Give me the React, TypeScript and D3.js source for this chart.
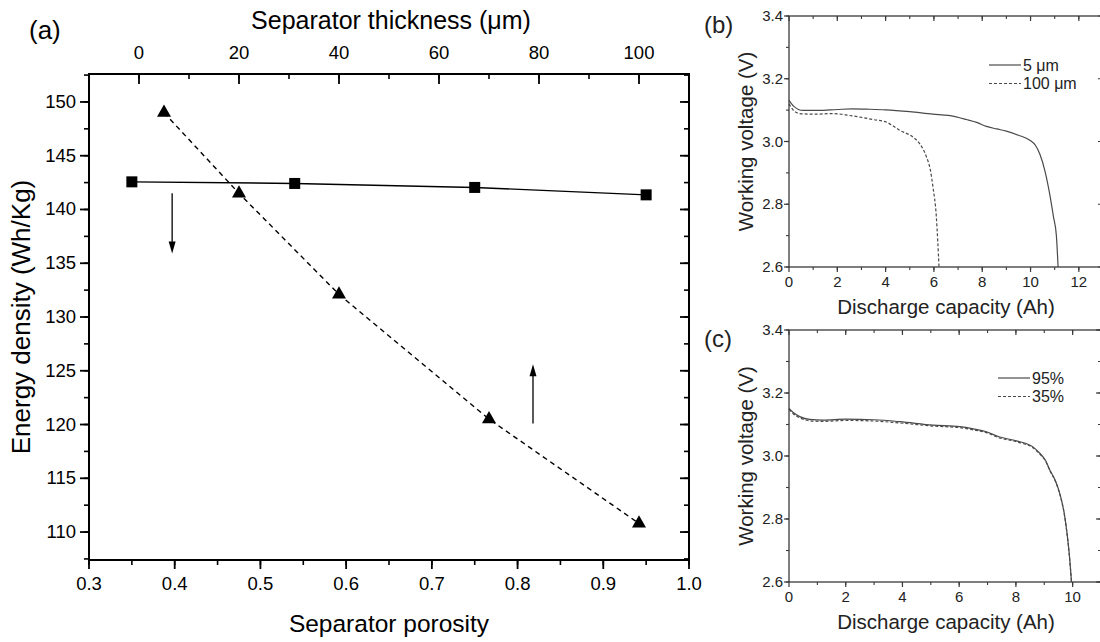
import React from "react";
import * as d3 from "d3";

// ---------- Panel (a) data ----------
const porosity = [0.35, 0.54, 0.75, 0.95];
const energyVsPorosity = [142.57, 142.42, 142.05, 141.36];
const thickness = [5, 20, 40, 70, 100];
const energyVsThickness = [149.0, 141.5, 132.1, 120.5, 110.8];
const porosityTicks = [0.3, 0.4, 0.5, 0.6, 0.7, 0.8, 0.9, 1.0];
const thicknessTicks = [0, 20, 40, 60, 80, 100];
const energyTicks = [110, 115, 120, 125, 130, 135, 140, 145, 150];
// annotation arrows [porosity x, from energy, to energy]
const arrowDown = [0.397, 141.5, 135.9];
const arrowUp = [0.818, 120.1, 125.6];

// ---------- Panel (b) data ----------
const capB5 = [0, 0.2, 0.58, 1.2, 2.0, 2.6, 3.2, 4.0, 5.0, 5.96, 6.6, 7.34, 7.8, 8.17, 8.6, 9.0, 9.5, 9.97, 10.2, 10.38, 10.6, 10.79, 10.95, 11.07, 11.14];
const voltB5 = [3.131, 3.112, 3.099, 3.099, 3.102, 3.104, 3.103, 3.101, 3.095, 3.087, 3.083, 3.070, 3.060, 3.048, 3.040, 3.033, 3.020, 3.004, 2.988, 2.961, 2.905, 2.834, 2.76, 2.70, 2.6];
const capB100 = [0, 0.2, 0.44, 1.0, 1.82, 2.5, 3.0, 3.48, 4.03, 4.3, 4.58, 5.13, 5.41, 5.69, 5.85, 5.96, 6.1, 6.16, 6.21];
const voltB100 = [3.12, 3.098, 3.089, 3.087, 3.089, 3.083, 3.077, 3.070, 3.062, 3.050, 3.036, 3.014, 2.993, 2.951, 2.91, 2.855, 2.76, 2.68, 2.6];
const capTicksB = [0, 2, 4, 6, 8, 10, 12];
const voltTicks = [2.6, 2.8, 3.0, 3.2, 3.4];

// ---------- Panel (c) data ----------
const capC95 = [0, 0.15, 0.38, 0.73, 1.2, 2.0, 3.0, 3.9, 5.08, 6.02, 6.5, 6.96, 7.4, 8.02, 8.6, 8.85, 9.05, 9.2, 9.4, 9.55, 9.7, 9.79, 9.88, 9.96];
const voltC95 = [3.151, 3.138, 3.125, 3.116, 3.114, 3.117, 3.115, 3.109, 3.098, 3.093, 3.086, 3.077, 3.061, 3.048, 3.029, 3.008, 2.985, 2.955, 2.92, 2.88, 2.82, 2.764, 2.69, 2.6];
const capC35 = [0, 0.15, 0.38, 0.73, 1.2, 2.0, 3.0, 3.9, 5.08, 6.02, 6.5, 6.96, 7.4, 8.02, 8.6, 8.85, 9.05, 9.2, 9.4, 9.55, 9.7, 9.79, 9.88, 9.96];
const voltC35 = [3.148, 3.134, 3.121, 3.112, 3.110, 3.113, 3.111, 3.105, 3.095, 3.090, 3.083, 3.074, 3.058, 3.045, 3.026, 3.005, 2.983, 2.953, 2.918, 2.878, 2.818, 2.762, 2.688, 2.6];
const capTicksC = [0, 2, 4, 6, 8, 10];

const FONT = "'Liberation Sans', Arial, sans-serif";

function range(a: number, b: number, step: number) {
  const out: number[] = [];
  for (let v = a; v <= b + 1e-9; v += step) out.push(+v.toFixed(4));
  return out;
}

function SmallPanel(props: {
  label: string;
  x: d3.ScaleLinear<number, number>;
  y: d3.ScaleLinear<number, number>;
  xTicks: number[];
  xMinor: number[];
  series: { xs: number[]; ys: number[]; dash?: string }[];
  legend: { text: string; dash?: string }[];
  legendX: number;
  legendY: number;
}) {
  const { x, y } = props;
  const [x0, x1] = x.range();
  const [y0, y1] = y.range(); // y0 bottom, y1 top
  const col = "#3a3a3a";
  const yMinor = range(2.6, 3.4, 0.1);
  const line = d3
    .line<[number, number]>()
    .x((d) => x(d[0]))
    .y((d) => y(d[1]))
    .curve(d3.curveMonotoneX);
  return (
    <g fontFamily={FONT} fill="#222">
      {props.series.map((s, i) => (
        <path
          key={i}
          d={line(s.xs.map((v, j) => [v, s.ys[j]] as [number, number])) || ""}
          fill="none"
          stroke="#4a4a4a"
          strokeWidth={1.2}
          strokeDasharray={s.dash}
        />
      ))}
      <rect x={x0} y={y1} width={x1 - x0} height={y0 - y1} fill="none" stroke={col} strokeWidth={1.3} />
      {props.xMinor.map((v) => (
        <g key={"xm" + v}>
          <line x1={x(v)} x2={x(v)} y1={y0} y2={y0 + 3} stroke={col} strokeWidth={1.1} />
          <line x1={x(v)} x2={x(v)} y1={y1} y2={y1 + 3} stroke={col} strokeWidth={1.1} />
        </g>
      ))}
      {yMinor.map((v) => (
        <g key={"ym" + v}>
          <line x1={x0} x2={x0 - 3} y1={y(v)} y2={y(v)} stroke={col} strokeWidth={1.1} />
          <line x1={x1} x2={x1 - 3} y1={y(v)} y2={y(v)} stroke={col} strokeWidth={1.1} />
        </g>
      ))}
      {props.xTicks.map((v) => (
        <g key={"x" + v}>
          <line x1={x(v)} x2={x(v)} y1={y0} y2={y0 + 5} stroke={col} strokeWidth={1.2} />
          <line x1={x(v)} x2={x(v)} y1={y1} y2={y1 + 5} stroke={col} strokeWidth={1.2} />
          <text x={x(v)} y={y0 + 20} fontSize={15} textAnchor="middle">
            {v}
          </text>
        </g>
      ))}
      {voltTicks.map((v) => (
        <g key={"y" + v}>
          <line x1={x0} x2={x0 - 5} y1={y(v)} y2={y(v)} stroke={col} strokeWidth={1.2} />
          <line x1={x1} x2={x1 - 5} y1={y(v)} y2={y(v)} stroke={col} strokeWidth={1.2} />
          <text x={x0 - 6} y={y(v) + 5} fontSize={15} textAnchor="end">
            {v.toFixed(1)}
          </text>
        </g>
      ))}
      <text x={946} y={y0 + 47} fontSize={20.5} textAnchor="middle">
        Discharge capacity (Ah)
      </text>
      <text
        transform={`translate(${753},${(y0 + y1) / 2}) rotate(-90)`}
        fontSize={20.5}
        textAnchor="middle"
      >
        Working voltage (V)
      </text>
      <text x={704} y={y1 + 17} fontSize={24}>
        {props.label}
      </text>
      {props.legend.map((l, i) => (
        <g key={"lg" + i}>
          <line
            x1={props.legendX}
            x2={props.legendX + 32}
            y1={props.legendY + i * 18.5}
            y2={props.legendY + i * 18.5}
            stroke="#4a4a4a"
            strokeWidth={1.2}
            strokeDasharray={l.dash}
          />
          <text x={props.legendX + 34} y={props.legendY + i * 18.5 + 5.5} fontSize={16}>
            {l.text}
          </text>
        </g>
      ))}
    </g>
  );
}

export default function App() {
  const xP = d3.scaleLinear().domain([0.3, 1.0]).range([89, 689]);
  const xT = d3.scaleLinear().domain([-10, 110]).range([89, 689]);
  const yE = d3.scaleLinear().domain([107.4, 152.6]).range([560, 74]);
  const L = 89, R = 689, T = 74, B = 560;

  const sqLine = d3
    .line<number>()
    .x((_, i) => xP(porosity[i]))
    .y((d) => yE(d));
  const triLine = d3
    .line<number>()
    .x((_, i) => xT(thickness[i]))
    .y((d) => yE(d));
  const tri = d3.symbol().type(d3.symbolTriangle).size(85)();

  const pMinor = range(0.3, 1.0, 0.05);
  const tMinor = range(-10, 110, 10);
  const eMinor = range(107.5, 152.5, 2.5);

  const xB = d3.scaleLinear().domain([0, 13]).range([789, 1103]);
  const yB = d3.scaleLinear().domain([2.6, 3.4]).range([267, 16]);
  const xC = d3.scaleLinear().domain([0, 11]).range([789, 1101]);
  const yC = d3.scaleLinear().domain([2.6, 3.4]).range([582, 330]);

  const arrow = (a: number[], key: string) => {
    const x = xP(a[0]);
    const ya = yE(a[1]);
    const yb = yE(a[2]);
    const dir = yb > ya ? 1 : -1;
    return (
      <g key={key}>
        <line x1={x} x2={x} y1={ya} y2={yb - dir * 8} stroke="#000" strokeWidth={1.3} />
        <path d={`M${x},${yb} L${x - 3.5},${yb - dir * 12} L${x + 3.5},${yb - dir * 12} Z`} fill="#000" />
      </g>
    );
  };

  return (
    <svg
      width={1100}
      height={642}
      style={{ position: "absolute", left: 0, top: 0, background: "#fff" }}
      fontFamily={FONT}
    >
      <rect x={0} y={0} width={1100} height={642} fill="#fff" />
      <g>
        <path d={triLine(energyVsThickness) || ""} fill="none" stroke="#000" strokeWidth={1.4} strokeDasharray="5,4" />
        <path d={sqLine(energyVsPorosity) || ""} fill="none" stroke="#000" strokeWidth={1.4} />
        {energyVsPorosity.map((v, i) => (
          <rect key={"sq" + i} x={xP(porosity[i]) - 5.5} y={yE(v) - 5.5} width={11} height={11} fill="#000" />
        ))}
        {energyVsThickness.map((v, i) => (
          <path key={"tr" + i} d={tri || ""} transform={`translate(${xT(thickness[i])},${yE(v)})`} fill="#000" />
        ))}
        {arrow(arrowDown, "ad")}
        {arrow(arrowUp, "au")}

        <rect x={L} y={T} width={R - L} height={B - T} fill="none" stroke="#000" strokeWidth={2} />
        {pMinor.map((v) => (
          <line key={"pm" + v} x1={xP(v)} x2={xP(v)} y1={B} y2={B + 5} stroke="#000" strokeWidth={1.6} />
        ))}
        {porosityTicks.map((v) => (
          <g key={"p" + v}>
            <line x1={xP(v)} x2={xP(v)} y1={B} y2={B + 9} stroke="#000" strokeWidth={1.8} />
            <text x={xP(v)} y={B + 30} fontSize={18.5} textAnchor="middle">
              {v.toFixed(1)}
            </text>
          </g>
        ))}
        {tMinor.map((v) => (
          <line key={"tm" + v} x1={xT(v)} x2={xT(v)} y1={T} y2={T + 5} stroke="#000" strokeWidth={1.6} />
        ))}
        {thicknessTicks.map((v) => (
          <g key={"t" + v}>
            <line x1={xT(v)} x2={xT(v)} y1={T} y2={T + 10} stroke="#000" strokeWidth={1.8} />
            <text x={xT(v)} y={T - 15} fontSize={18.5} textAnchor="middle">
              {v}
            </text>
          </g>
        ))}
        {eMinor.map((v) => (
          <g key={"em" + v}>
            <line x1={L} x2={L - 5} y1={yE(v)} y2={yE(v)} stroke="#000" strokeWidth={1.6} />
            <line x1={R} x2={R - 5} y1={yE(v)} y2={yE(v)} stroke="#000" strokeWidth={1.6} />
          </g>
        ))}
        {energyTicks.map((v) => (
          <g key={"e" + v}>
            <line x1={L} x2={L - 9} y1={yE(v)} y2={yE(v)} stroke="#000" strokeWidth={1.8} />
            <line x1={R} x2={R - 9} y1={yE(v)} y2={yE(v)} stroke="#000" strokeWidth={1.8} />
            <text x={L - 13} y={yE(v) + 6} fontSize={18.5} textAnchor="end">
              {v}
            </text>
          </g>
        ))}
        <text x={389} y={632} fontSize={24.5} textAnchor="middle">
          Separator porosity
        </text>
        <text x={391} y={29} fontSize={25} textAnchor="middle">
          Separator thickness (μm)
        </text>
        <text transform={`translate(${30},${(T + B) / 2}) rotate(-90)`} fontSize={26} textAnchor="middle">
          Energy density (Wh/Kg)
        </text>
        <text x={29} y={39} fontSize={26}>
          (a)
        </text>
      </g>

      <SmallPanel
        label="(b)"
        x={xB}
        y={yB}
        xTicks={capTicksB}
        xMinor={range(1, 13, 1)}
        series={[
          { xs: capB5, ys: voltB5 },
          { xs: capB100, ys: voltB100, dash: "3,2" },
        ]}
        legend={[{ text: "5 μm" }, { text: "100 μm", dash: "3,2" }]}
        legendX={989}
        legendY={65}
      />
      <SmallPanel
        label="(c)"
        x={xC}
        y={yC}
        xTicks={capTicksC}
        xMinor={range(1, 11, 1)}
        series={[
          { xs: capC95, ys: voltC95 },
          { xs: capC35, ys: voltC35, dash: "3,2" },
        ]}
        legend={[{ text: "95%" }, { text: "35%", dash: "3,2" }]}
        legendX={998}
        legendY={378}
      />
    </svg>
  );
}
